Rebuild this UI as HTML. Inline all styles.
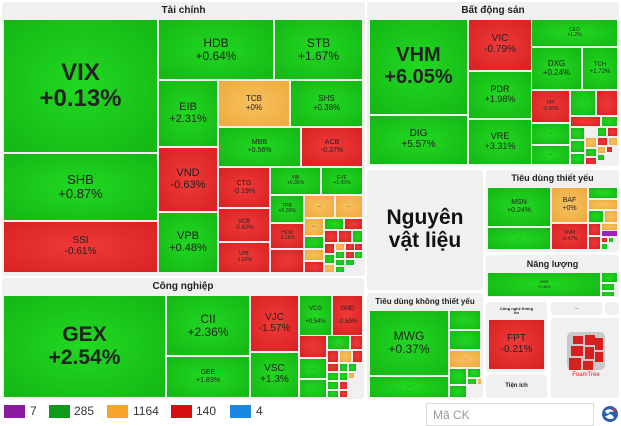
<!DOCTYPE html>
<html><head><meta charset="utf-8"><style>
body{margin:0;width:621px;height:426px;background:#fff;overflow:hidden;font-family:"Liberation Sans",sans-serif;position:relative}
.p{position:absolute;background:#f0f0f0;border-radius:3px}
.h{position:absolute;font-size:10px;font-weight:bold;color:#222;text-align:center}
.t{position:absolute;display:flex;flex-direction:column;align-items:center;justify-content:center;text-align:center;color:#222;line-height:1.08;box-sizing:border-box;overflow:hidden}
.g{background:radial-gradient(ellipse at center,#22d822 0%,#14b614 100%)}
.r{background:radial-gradient(ellipse at center,#f03a3a 0%,#d82222 100%)}
.o{background:radial-gradient(ellipse at center,#f8c060 0%,#eeaa3c 100%)}
.v{background:#a020c0}
</style></head><body>
<!-- Tai chinh -->
<div class="p" style="left:2px;top:2px;width:363px;height:274px"></div>
<div class="h" style="left:2px;top:5px;width:363px">Tài chính</div>
<div class="t g" style="left:4px;top:20px;width:153px;height:132px;font-size:24px;font-weight:bold">VIX<br>+0.13%</div>
<div class="t g" style="left:4px;top:154px;width:153px;height:66px;font-size:13px">SHB<br>+0.87%</div>
<div class="t r" style="left:4px;top:222px;width:153px;height:50px;font-size:10px">SSI<br>-0.61%</div>
<div class="t g" style="left:159px;top:20px;width:114px;height:59px;font-size:12px">HDB<br>+0.64%</div>
<div class="t g" style="left:275px;top:20px;width:87px;height:59px;font-size:12px">STB<br>+1.67%</div>
<div class="t g" style="left:159px;top:81px;width:58px;height:65px;font-size:11px">EIB<br>+2.31%</div>
<div class="t o" style="left:219px;top:81px;width:70px;height:45px;font-size:8px">TCB<br>+0%</div>
<div class="t g" style="left:291px;top:81px;width:71px;height:45px;font-size:8px">SHS<br>+0.38%</div>
<div class="t g" style="left:219px;top:128px;width:81px;height:38px;font-size:7px">MBB<br>+0.56%</div>
<div class="t r" style="left:302px;top:128px;width:60px;height:38px;font-size:7px">ACB<br>-0.37%</div>
<div class="t r" style="left:159px;top:148px;width:58px;height:63px;font-size:11px">VND<br>-0.63%</div>
<div class="t g" style="left:159px;top:213px;width:58px;height:59px;font-size:11px">VPB<br>+0.48%</div>
<div class="t r" style="left:219px;top:168px;width:50px;height:39px;font-size:7px">CTG<br>-0.19%</div>
<div class="t r" style="left:219px;top:209px;width:50px;height:32px;font-size:6px">VCB<br>-0.62%</div>
<div class="t r" style="left:219px;top:243px;width:50px;height:29px;font-size:5px">LPB<br>-1.92%</div>
<div class="t g" style="left:271px;top:168px;width:49px;height:26px;font-size:5px">VIB<br>+0.35%</div>
<div class="t g" style="left:322px;top:168px;width:40px;height:26px;font-size:5px">EVF<br>+1.05%</div>
<div class="t g" style="left:271px;top:196px;width:32px;height:26px;font-size:5px">TPB<br>+0.28%</div>
<div class="t r" style="left:271px;top:224px;width:32px;height:24px;font-size:5px">HCM<br>-0.16%</div>
<div class="t r" style="left:271px;top:250px;width:32px;height:22px;font-size:5px">...</div>
<div class="t o" style="left:305px;top:196px;width:29px;height:21px;font-size:5px">...</div>
<div class="t o" style="left:336px;top:196px;width:26px;height:21px;font-size:5px">...</div>
<div class="t o" style="left:305px;top:219px;width:18px;height:16px;font-size:5px">...</div>
<div class="t g" style="left:325px;top:219px;width:18px;height:10px"></div>
<div class="t r" style="left:345px;top:219px;width:17px;height:10px"></div>
<div class="t g" style="left:305px;top:237px;width:18px;height:11px"></div>
<div class="t o" style="left:305px;top:250px;width:18px;height:10px"></div>
<div class="t r" style="left:305px;top:262px;width:18px;height:10px"></div>
<div class="t r" style="left:325px;top:231px;width:12px;height:11px"></div>
<div class="t r" style="left:339px;top:231px;width:12px;height:11px"></div>
<div class="t g" style="left:353px;top:231px;width:9px;height:11px"></div>
<div class="t r" style="left:325px;top:244px;width:9px;height:9px"></div>
<div class="t g" style="left:325px;top:255px;width:9px;height:8px"></div>
<div class="t o" style="left:325px;top:265px;width:9px;height:7px"></div>
<div class="t o" style="left:336px;top:244px;width:8px;height:6px"></div>
<div class="t r" style="left:346px;top:244px;width:8px;height:6px"></div>
<div class="t r" style="left:355px;top:244px;width:7px;height:6px"></div>
<div class="t g" style="left:336px;top:252px;width:8px;height:6px"></div>
<div class="t r" style="left:346px;top:252px;width:8px;height:6px"></div>
<div class="t g" style="left:355px;top:252px;width:7px;height:6px"></div>
<div class="t g" style="left:336px;top:260px;width:8px;height:5px"></div>
<div class="t g" style="left:346px;top:260px;width:8px;height:5px"></div>
<div class="t g" style="left:336px;top:267px;width:8px;height:5px"></div>
<!-- Bat dong san -->
<div class="p" style="left:367px;top:2px;width:252px;height:164px"></div>
<div class="h" style="left:367px;top:5px;width:252px">Bất động sản</div>
<div class="t g" style="left:370px;top:20px;width:97px;height:94px;font-size:20px;font-weight:bold">VHM<br>+6.05%</div>
<div class="t g" style="left:370px;top:116px;width:97px;height:48px;font-size:10px">DIG<br>+5.57%</div>
<div class="t r" style="left:469px;top:20px;width:62px;height:50px;font-size:10px">VIC<br>-0.79%</div>
<div class="t g" style="left:469px;top:72px;width:62px;height:46px;font-size:9px">PDR<br>+1.98%</div>
<div class="t g" style="left:469px;top:120px;width:62px;height:44px;font-size:9px">VRE<br>+3.31%</div>
<div class="t g" style="left:532px;top:20px;width:85px;height:26px;font-size:5px">CEO<br>+1.2%</div>
<div class="t g" style="left:532px;top:48px;width:49px;height:41px;font-size:8px">DXG<br>+0.24%</div>
<div class="t g" style="left:583px;top:48px;width:34px;height:41px;font-size:6px">TCH<br>+1.72%</div>
<div class="t r" style="left:532px;top:91px;width:37px;height:31px;font-size:5px">VPI<br>-0.36%</div>
<div class="t g" style="left:571px;top:91px;width:24px;height:24px;font-size:5px">...</div>
<div class="t r" style="left:597px;top:91px;width:20px;height:24px;font-size:5px">...</div>
<div class="t r" style="left:571px;top:117px;width:29px;height:9px;font-size:4px">...</div>
<div class="t g" style="left:602px;top:117px;width:15px;height:9px"></div>
<div class="t g" style="left:532px;top:124px;width:37px;height:20px;font-size:5px">...</div>
<div class="t g" style="left:532px;top:146px;width:37px;height:18px;font-size:5px">...</div>
<div class="t g" style="left:571px;top:128px;width:13px;height:11px"></div>
<div class="t g" style="left:571px;top:141px;width:13px;height:11px"></div>
<div class="t g" style="left:571px;top:154px;width:13px;height:10px"></div>
<div class="t o" style="left:586px;top:138px;width:10px;height:9px"></div>
<div class="t g" style="left:586px;top:149px;width:10px;height:7px"></div>
<div class="t r" style="left:586px;top:158px;width:10px;height:6px"></div>
<div class="t g" style="left:598px;top:128px;width:8px;height:8px"></div>
<div class="t r" style="left:608px;top:128px;width:9px;height:8px"></div>
<div class="t r" style="left:598px;top:138px;width:9px;height:7px"></div>
<div class="t o" style="left:609px;top:138px;width:8px;height:7px"></div>
<div class="t o" style="left:598px;top:147px;width:7px;height:6px"></div>
<div class="t r" style="left:607px;top:147px;width:5px;height:5px"></div>
<div class="t g" style="left:598px;top:155px;width:6px;height:5px"></div>
<!-- Nguyen vat lieu -->
<div class="p" style="left:367px;top:170px;width:116px;height:120px"></div>
<div class="t" style="left:367px;top:170px;width:116px;height:120px;font-size:21px;font-weight:bold;color:#111">Nguyên<br>vật liệu</div>
<!-- Tieu dung thiet yeu -->
<div class="p" style="left:486px;top:170px;width:133px;height:82px"></div>
<div class="h" style="left:486px;top:173px;width:133px;font-size:9px">Tiêu dùng thiết yếu</div>
<div class="t g" style="left:488px;top:188px;width:62px;height:38px;font-size:7px">MSN<br>+0.24%</div>
<div class="t g" style="left:488px;top:228px;width:62px;height:21px;font-size:5px">...</div>
<div class="t o" style="left:552px;top:188px;width:35px;height:34px;font-size:7px">BAF<br>+0%</div>
<div class="t r" style="left:552px;top:224px;width:35px;height:25px;font-size:5px">VNM<br>-0.47%</div>
<div class="t g" style="left:589px;top:188px;width:28px;height:10px"></div>
<div class="t o" style="left:589px;top:200px;width:28px;height:9px"></div>
<div class="t g" style="left:589px;top:211px;width:14px;height:11px"></div>
<div class="t o" style="left:605px;top:211px;width:12px;height:11px"></div>
<div class="t r" style="left:589px;top:224px;width:11px;height:11px"></div>
<div class="t o" style="left:602px;top:224px;width:15px;height:6px"></div>
<div class="t v" style="left:602px;top:231px;width:15px;height:5px"></div>
<div class="t r" style="left:589px;top:237px;width:11px;height:12px"></div>
<div class="t r" style="left:602px;top:238px;width:5px;height:4px"></div>
<div class="t g" style="left:609px;top:238px;width:4px;height:4px"></div>
<div class="t g" style="left:602px;top:244px;width:5px;height:5px"></div>
<!-- Nang luong -->
<div class="p" style="left:486px;top:255px;width:133px;height:42px"></div>
<div class="h" style="left:486px;top:259px;width:133px;font-size:9px">Năng lượng</div>
<div class="t g" style="left:488px;top:273px;width:112px;height:23px;font-size:4px">MSR<br>+3.38%</div>
<div class="t g" style="left:602px;top:273px;width:15px;height:9px"></div>
<div class="t g" style="left:602px;top:284px;width:12px;height:6px"></div>
<div class="t g" style="left:602px;top:292px;width:12px;height:4px"></div>
<!-- Cong nghiep -->
<div class="p" style="left:2px;top:278px;width:362px;height:121px"></div>
<div class="h" style="left:2px;top:281px;width:362px">Công nghiệp</div>
<div class="t g" style="left:4px;top:296px;width:161px;height:101px;font-size:21px;font-weight:bold">GEX<br>+2.54%</div>
<div class="t g" style="left:167px;top:296px;width:82px;height:59px;font-size:12px">CII<br>+2.36%</div>
<div class="t g" style="left:167px;top:357px;width:82px;height:40px;font-size:7px">GEE<br>+1.83%</div>
<div class="t r" style="left:251px;top:296px;width:47px;height:55px;font-size:10px">VJC<br>-1.57%</div>
<div class="t g" style="left:251px;top:353px;width:47px;height:44px;font-size:10px">VSC<br>+1.3%</div>
<div class="t g" style="left:300px;top:296px;width:31px;height:39px;font-size:6px">VCG<br><br>+0.54%</div>
<div class="t r" style="left:333px;top:296px;width:29px;height:39px;font-size:6px">GMD<br><br>-0.59%</div>
<div class="t r" style="left:300px;top:336px;width:26px;height:21px;font-size:5px">...</div>
<div class="t g" style="left:300px;top:359px;width:26px;height:19px;font-size:5px">...</div>
<div class="t g" style="left:300px;top:380px;width:26px;height:17px;font-size:5px">...</div>
<div class="t g" style="left:328px;top:336px;width:21px;height:13px"></div>
<div class="t r" style="left:351px;top:336px;width:11px;height:13px"></div>
<div class="t r" style="left:328px;top:351px;width:10px;height:11px"></div>
<div class="t o" style="left:340px;top:351px;width:11px;height:11px"></div>
<div class="t r" style="left:353px;top:351px;width:9px;height:11px"></div>
<div class="t r" style="left:328px;top:364px;width:10px;height:7px"></div>
<div class="t g" style="left:340px;top:364px;width:7px;height:7px"></div>
<div class="t g" style="left:349px;top:364px;width:7px;height:7px"></div>
<div class="t g" style="left:328px;top:373px;width:10px;height:7px"></div>
<div class="t g" style="left:340px;top:373px;width:7px;height:7px"></div>
<div class="t o" style="left:349px;top:373px;width:5px;height:5px"></div>
<div class="t g" style="left:328px;top:382px;width:10px;height:7px"></div>
<div class="t r" style="left:340px;top:382px;width:7px;height:7px"></div>
<div class="t g" style="left:328px;top:391px;width:10px;height:6px"></div>
<div class="t r" style="left:340px;top:391px;width:7px;height:6px"></div>
<!-- Tieu dung khong thiet yeu -->
<div class="p" style="left:367px;top:293px;width:116px;height:105px"></div>
<div class="h" style="left:367px;top:297px;width:116px;font-size:8px">Tiêu dùng không thiết yếu</div>
<div class="t g" style="left:370px;top:311px;width:78px;height:64px;font-size:12px">MWG<br>+0.37%</div>
<div class="t g" style="left:370px;top:377px;width:78px;height:20px;font-size:5px">...</div>
<div class="t g" style="left:450px;top:311px;width:30px;height:18px;font-size:4px">...</div>
<div class="t g" style="left:450px;top:331px;width:30px;height:18px;font-size:4px">...</div>
<div class="t o" style="left:450px;top:351px;width:30px;height:16px;font-size:4px">...</div>
<div class="t g" style="left:450px;top:369px;width:16px;height:15px"></div>
<div class="t g" style="left:468px;top:369px;width:12px;height:8px"></div>
<div class="t g" style="left:468px;top:379px;width:8px;height:5px"></div>
<div class="t g" style="left:450px;top:386px;width:16px;height:11px"></div>
<div class="t o" style="left:478px;top:379px;width:3px;height:5px"></div>
<!-- CNTT -->
<div class="p" style="left:486px;top:302px;width:61px;height:70px"></div>
<div class="t" style="left:486px;top:304px;width:61px;height:14px;font-size:4px;font-weight:bold">Công nghệ thông<br>tin</div>
<div class="t r" style="left:489px;top:320px;width:55px;height:49px;font-size:10px">FPT<br>-0.21%</div>
<div class="p" style="left:486px;top:375px;width:61px;height:23px"></div>
<div class="t" style="left:486px;top:375px;width:61px;height:23px;font-size:6px;font-weight:bold">Tiện ích</div>
<div class="p" style="left:551px;top:302px;width:51px;height:13px"></div>
<div class="t" style="left:551px;top:302px;width:51px;height:13px;font-size:5px">...</div>
<div class="p" style="left:605px;top:302px;width:14px;height:13px"></div>
<div class="p" style="left:551px;top:318px;width:68px;height:80px"></div>
<svg style="position:absolute;left:565px;top:330px" width="42" height="48" viewBox="0 0 42 48">
<rect x="2" y="2" width="38" height="38" rx="5" fill="#c8c8c8"/>
<path d="M8 6h10v8h-10zM20 5h10v10h-10zM30 8h8v12h-8zM6 16h12v10h-12zM20 17h9v12h-9zM4 28h12v12h-12zM18 31h10v9h-10zM30 22h8v10h-8z" fill="#d62020"/>
<text x="21" y="46" font-size="6" fill="#d62020" text-anchor="middle" font-family="Liberation Sans">FoamTree</text>
</svg>
<!-- legend -->
<div style="position:absolute;left:4px;top:405px;width:21px;height:13px;background:#8a1aa0"></div>
<div style="position:absolute;left:30px;top:404px;font-size:12px;color:#333">7</div>
<div style="position:absolute;left:49px;top:405px;width:21px;height:13px;background:#0e9a1a"></div>
<div style="position:absolute;left:74px;top:404px;font-size:12px;color:#333">285</div>
<div style="position:absolute;left:107px;top:405px;width:21px;height:13px;background:#f7a42c"></div>
<div style="position:absolute;left:133px;top:404px;font-size:12px;color:#333">1164</div>
<div style="position:absolute;left:171px;top:405px;width:21px;height:13px;background:#d61010"></div>
<div style="position:absolute;left:196px;top:404px;font-size:12px;color:#333">140</div>
<div style="position:absolute;left:230px;top:405px;width:21px;height:13px;background:#1a88e0"></div>
<div style="position:absolute;left:256px;top:404px;font-size:12px;color:#333">4</div>
<div style="position:absolute;left:426px;top:403px;width:168px;height:23px;border:1px solid #ddd;box-sizing:border-box;background:#fff"></div>
<div style="position:absolute;left:433px;top:408px;font-size:12px;color:#999">Mã CK</div>
<svg style="position:absolute;left:601px;top:405px" width="18" height="18" viewBox="0 0 18 18"><circle cx="9" cy="9" r="8" fill="#2a5db0"/><path d="M4 6c3-3 8-2 9 1-3-1-5 0-6 2 3 0 5 1 6 4-3 2-7 1-9-2 2 0 4-1 4-2-2 0-3-1-4-3z" fill="#fff"/><circle cx="13" cy="5" r="1.5" fill="#e03030"/></svg>
</body></html>
